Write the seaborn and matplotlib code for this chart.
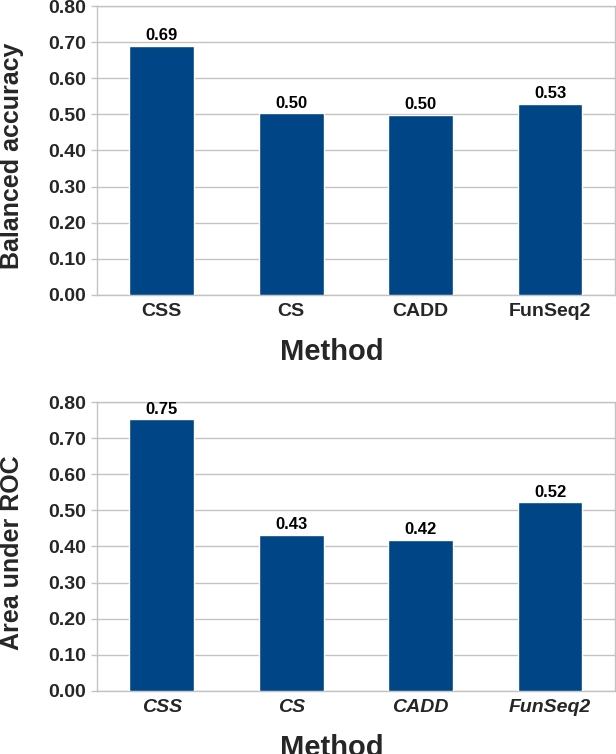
import matplotlib
matplotlib.use("Agg")
import matplotlib.pyplot as plt
import seaborn as sns
import numpy as np
import pandas as pd

sns.set_theme(style="white")
plt.rcParams['font.family'] = ['Liberation Sans', 'DejaVu Sans']

# data
methods = ['CSS', 'CS', 'CADD', 'FunSeq2']
balanced_accuracy = [0.69, 0.503, 0.499, 0.53]
auc_roc = [0.752, 0.432, 0.419, 0.522]
yticks = [0.0, 0.1, 0.2, 0.3, 0.4, 0.5, 0.6, 0.7, 0.8]

bar_color = '#004586'
grid_color = '#c3c3c3'

fig = plt.figure(figsize=(6.16, 7.54), dpi=100)
ax_top = fig.add_axes([0.1575, 0.6088, 0.8405, 0.3832])
ax_bot = fig.add_axes([0.1575, 0.0836, 0.8405, 0.3832])


def draw_panel(ax, values, ylabel, italic):
    df = pd.DataFrame({'Method': methods, 'Value': values})
    sns.barplot(data=df, x='Method', y='Value', color=bar_color,
                saturation=1, width=0.5, ax=ax, zorder=3)
    for c in ax.containers:
        ax.bar_label(c, labels=[f'{v:.2f}' for v in values], padding=2,
                     fontsize=12, fontweight='bold', color='black')
    ax.set_ylim(0, 0.8)
    ax.set_xlim(-0.5, len(methods) - 0.5)
    ax.set_yticks(yticks)
    ax.set_yticklabels([f'{t:.2f}' for t in yticks], fontsize=14,
                       fontweight='bold')
    ax.set_xticks(range(len(methods)))
    ax.set_xticklabels(methods, fontsize=14, fontweight='bold',
                       fontstyle='italic' if italic else 'normal')
    ax.set_xticks(np.arange(-0.5, len(methods), 1.0), minor=True)
    ax.tick_params(axis='x', which='major', length=0, pad=6)
    ax.tick_params(axis='x', which='minor', length=4, color=grid_color,
                   width=1)
    ax.tick_params(axis='y', length=4, color=grid_color, width=1, pad=4,
                   left=True)
    ax.yaxis.grid(True, color=grid_color, linewidth=1, zorder=0)
    ax.set_axisbelow(True)
    for s in ax.spines.values():
        s.set_color(grid_color)
        s.set_linewidth(1)
    ax.set_xlabel('Method', fontsize=21, fontweight='bold', va='center')
    ax.xaxis.set_label_coords(0.454, -0.197)
    ax.set_ylabel(ylabel, fontsize=18, fontweight='bold', va='center',
                  ha='center')
    ax.yaxis.set_label_coords(-0.164, 0.48)


draw_panel(ax_top, balanced_accuracy, 'Balanced accuracy', False)
draw_panel(ax_bot, auc_roc, 'Area under ROC', True)

fig.savefig('out.png', dpi=100)
